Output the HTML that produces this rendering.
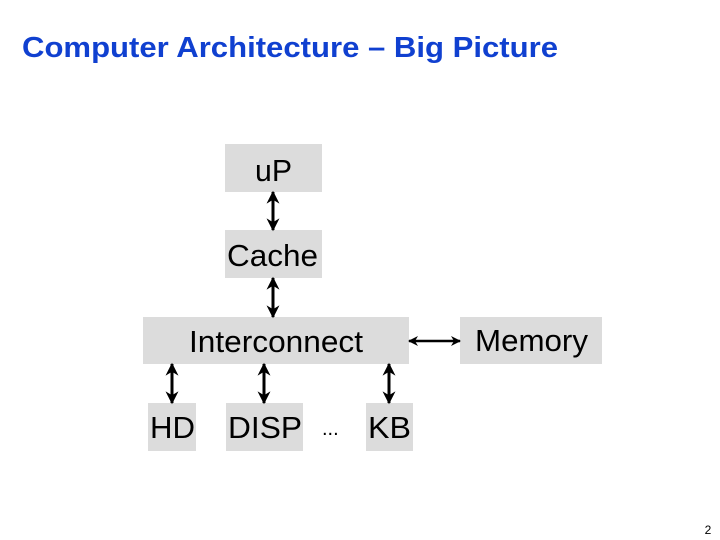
<!DOCTYPE html>
<html><head><meta charset="utf-8"><style>
html,body{margin:0;padding:0;background:#fff;}
svg{display:block;}
</style></head><body>
<svg width="720" height="540" viewBox="0 0 720 540" xmlns="http://www.w3.org/2000/svg">
<defs>
<marker id="a" viewBox="0 0 10 10" refX="9" refY="5" markerUnits="userSpaceOnUse" markerWidth="13" markerHeight="14" orient="auto-start-reverse">
<path d="M0,0 L10,5 L0,10 L3,5 z" fill="#000"/>
</marker>
<marker id="b" viewBox="0 0 10 10" refX="9" refY="5" markerUnits="userSpaceOnUse" markerWidth="10" markerHeight="11" orient="auto-start-reverse">
<path d="M0,0 L10,5 L0,10 L3,5 z" fill="#000"/>
</marker>
</defs>
<text x="22" y="57" font-family="Liberation Sans, sans-serif" font-weight="bold" font-size="29" fill="#1040d0" textLength="536" lengthAdjust="spacingAndGlyphs">Computer Architecture – Big Picture</text>
<g fill="#dcdcdc">
<rect x="225" y="144" width="97" height="48"/>
<rect x="225" y="230" width="97" height="48"/>
<rect x="143" y="317" width="266" height="47"/>
<rect x="460" y="317" width="142" height="47"/>
<rect x="148" y="403" width="48" height="48"/>
<rect x="226" y="403" width="77" height="48"/>
<rect x="366" y="403" width="47" height="48"/>
</g>
<g font-family="Liberation Sans, sans-serif" font-size="31" fill="#000" lengthAdjust="spacingAndGlyphs">
<text x="255" y="181" textLength="37" lengthAdjust="spacingAndGlyphs">uP</text>
<text x="227" y="266" textLength="91" lengthAdjust="spacingAndGlyphs">Cache</text>
<text x="189" y="352" textLength="174" lengthAdjust="spacingAndGlyphs">Interconnect</text>
<text x="475" y="351" textLength="113" lengthAdjust="spacingAndGlyphs">Memory</text>
<text x="150" y="438" textLength="45" lengthAdjust="spacingAndGlyphs">HD</text>
<text x="228" y="438" textLength="74" lengthAdjust="spacingAndGlyphs">DISP</text>
<text x="368" y="438" textLength="43" lengthAdjust="spacingAndGlyphs">KB</text>
<text x="322" y="435" font-size="20">...</text>
</g>
<g stroke="#000" stroke-width="3" marker-start="url(#a)" marker-end="url(#a)">
<line x1="273" y1="192" x2="273" y2="230"/>
<line x1="273" y1="278" x2="273" y2="317"/>
<line x1="172" y1="364" x2="172" y2="403"/>
<line x1="264" y1="364" x2="264" y2="403"/>
<line x1="389" y1="364" x2="389" y2="403"/>
<line x1="409" y1="341" x2="460" y2="341" stroke-width="2.5" marker-start="url(#b)" marker-end="url(#b)"/>
</g>
<text x="708" y="534" font-family="Liberation Sans, sans-serif" font-size="12" text-anchor="middle">2</text>
</svg>
</body></html>
